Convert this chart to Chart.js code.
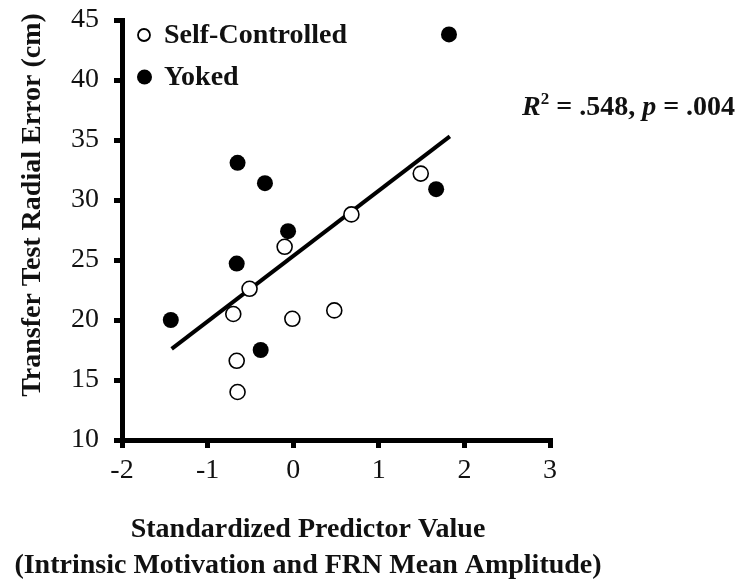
<!DOCTYPE html>
<html>
<head>
<meta charset="utf-8">
<script src="https://cdn.jsdelivr.net/npm/chart.js@4.4.1/dist/chart.umd.min.js"></script>
<style>
  html, body { margin: 0; padding: 0; background: #ffffff; }
  #wrap { width: 741px; height: 581px; }
</style>
</head>
<body>
<div id="wrap"><canvas id="c" width="741" height="581"></canvas></div>
<script>
// Standardized predictor value (x) vs. transfer test radial error in cm (y)
const selfControlledX = [1.49, 0.68, -0.10, -0.51, -0.70, -0.01, 0.48, -0.66, -0.65];
const selfControlledY = [32.2, 28.8, 26.1, 22.6, 20.5, 20.1, 20.8, 16.6, 14.0];
const yokedX = [1.82, -0.65, -0.33, 1.67, -0.06, -0.66, -1.43, -0.38];
const yokedY = [43.8, 33.1, 31.4, 30.9, 27.4, 24.7, 20.0, 17.5];
// Regression line end points
const fitX = [-1.42, 1.83];
const fitY = [17.6, 35.3];
const xTicks = [-2, -1, 0, 1, 2, 3];
const yTicks = [10, 15, 20, 25, 30, 35, 40, 45];
const seriesNames = ['Self-Controlled', 'Yoked'];
const yTitle = 'Transfer Test Radial Error (cm)';
const xTitleLines = ['Standardized Predictor Value', '(Intrinsic Motivation and FRN Mean Amplitude)'];
const statR2 = '.548';
const statP = '.004';

const SERIF = "'Liberation Serif', 'Times New Roman', serif";
const INK = '#111111';

const toPoints = (xs, ys) => xs.map((x, i) => ({ x: x, y: ys[i] }));

// Legend, statistics and axis titles drawn on top of the chart
const annotations = {
  id: 'annotations',
  afterDraw(chart) {
    const ctx = chart.ctx;
    ctx.save();
    ctx.fillStyle = INK;
    ctx.strokeStyle = '#000';
    ctx.textBaseline = 'middle';

    // legend
    const lx = 144;
    const rows = [35, 77];
    ctx.beginPath();
    ctx.arc(lx, rows[0], 6, 0, Math.PI * 2);
    ctx.fillStyle = '#fff';
    ctx.fill();
    ctx.lineWidth = 1.8;
    ctx.stroke();
    ctx.beginPath();
    ctx.arc(lx + 0.5, rows[1], 7.5, 0, Math.PI * 2);
    ctx.fillStyle = '#000';
    ctx.fill();
    ctx.fillStyle = INK;
    ctx.font = 'bold 28px ' + SERIF;
    ctx.textAlign = 'left';
    ctx.fillText(seriesNames[0], 164, rows[0] + 1);
    ctx.fillText(seriesNames[1], 164, rows[1] + 1);

    // statistics
    let sx = 522;
    const sy = 108;
    const parts = [
      { t: 'R', f: 'italic bold 28px ', dy: 0 },
      { t: '2', f: 'bold 17px ', dy: -8 },
      { t: ' = ' + statR2 + ', ', f: 'bold 28px ', dy: 0 },
      { t: 'p', f: 'italic bold 28px ', dy: 0 },
      { t: ' = ' + statP, f: 'bold 28px ', dy: 0 }
    ];
    parts.forEach(p => {
      ctx.font = p.f + SERIF;
      ctx.fillText(p.t, sx, sy + p.dy);
      sx += ctx.measureText(p.t).width;
    });

    // x axis title
    ctx.textAlign = 'center';
    ctx.font = 'bold 28px ' + SERIF;
    ctx.fillText(xTitleLines[0], 308, 530);
    ctx.fillText(xTitleLines[1], 308, 566);

    // y axis title
    ctx.translate(33, 205);
    ctx.rotate(-Math.PI / 2);
    ctx.fillText(yTitle, 0, 0);
    ctx.restore();
  }
};

new Chart(document.getElementById('c'), {
  data: {
    datasets: [
      {
        type: 'scatter',
        label: seriesNames[0],
        data: toPoints(selfControlledX, selfControlledY),
        pointRadius: 7.5,
        pointBackgroundColor: '#ffffff',
        pointBorderColor: '#000000',
        pointBorderWidth: 1.6
      },
      {
        type: 'scatter',
        label: seriesNames[1],
        data: toPoints(yokedX, yokedY),
        pointRadius: 8,
        pointBackgroundColor: '#000000',
        pointBorderColor: '#000000',
        pointBorderWidth: 0
      },
      {
        type: 'line',
        label: 'fit',
        data: toPoints(fitX, fitY),
        borderColor: '#000000',
        borderWidth: 4,
        pointRadius: 0,
        borderCapStyle: 'butt',
        fill: false
      }
    ]
  },
  options: {
    responsive: false,
    animation: false,
    devicePixelRatio: 1,
    layout: { padding: { left: 62, right: 191, top: 20, bottom: 96 } },
    plugins: {
      legend: { display: false },
      tooltip: { enabled: false }
    },
    scales: {
      x: {
        type: 'linear',
        min: xTicks[0],
        max: xTicks[xTicks.length - 1],
        afterFit(scale) {
          scale.height = 45;
          scale.paddingLeft = 0;
          scale.paddingRight = 0;
        },
        afterBuildTicks(scale) { scale.ticks = xTicks.map(v => ({ value: v })); },
        ticks: {
          font: { family: SERIF, size: 28 },
          color: INK,
          padding: 6
        },
        grid: { display: true, drawOnChartArea: false, drawTicks: true, tickLength: 8, lineWidth: 5, color: '#000' },
        border: { display: true, width: 5, color: '#000' }
      },
      y: {
        type: 'linear',
        min: yTicks[0],
        max: yTicks[yTicks.length - 1],
        afterFit(scale) {
          scale.width = 60;
          scale.paddingTop = 0;
          scale.paddingBottom = 0;
        },
        afterBuildTicks(scale) { scale.ticks = yTicks.map(v => ({ value: v })); },
        ticks: {
          font: { family: SERIF, size: 28 },
          color: INK,
          padding: 15
        },
        grid: { display: true, drawOnChartArea: false, drawTicks: true, tickLength: 8, lineWidth: 5, color: '#000' },
        border: { display: true, width: 5, color: '#000' }
      }
    }
  },
  plugins: [annotations]
});
</script>
</body>
</html>
